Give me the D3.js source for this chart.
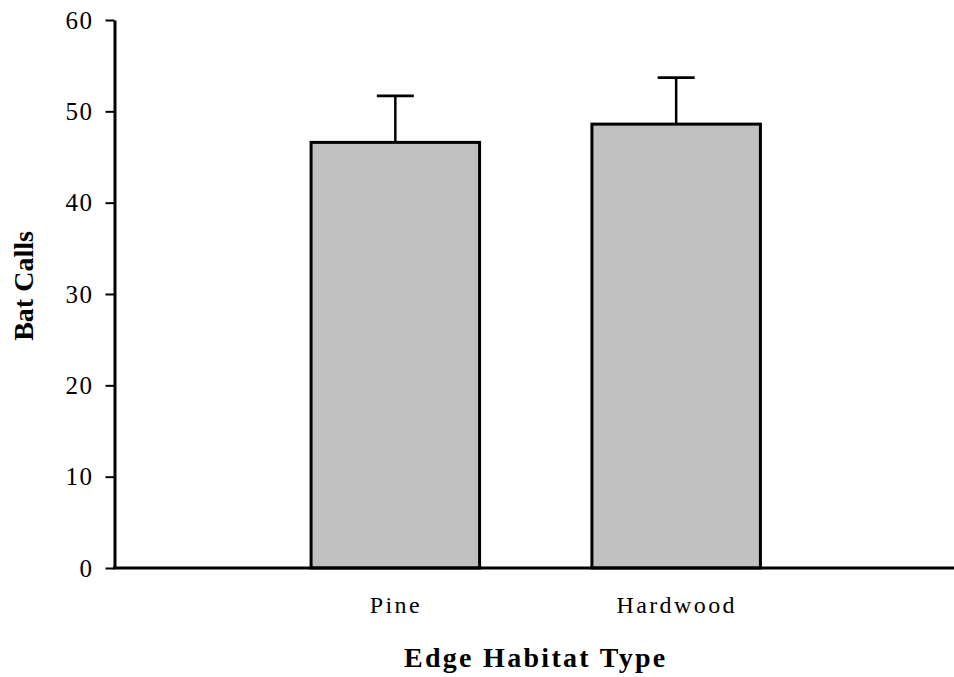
<!DOCTYPE html>
<html>
<head>
<meta charset="utf-8">
<script src="https://cdn.jsdelivr.net/npm/d3@7"></script>
<style>
  html, body { margin: 0; padding: 0; background: #fff; }
  svg { display: block; }
  text { font-family: "Liberation Serif", "Times New Roman", serif; fill: #000; }
</style>
</head>
<body>
<svg id="chart" width="954" height="677"></svg>
<script>
// Mean bat calls per edge habitat type, with standard error
const categories = ["Pine", "Hardwood"];
const means = [46.6, 48.6];
const errors = [5.1, 5.1];
const yTicks = [0, 10, 20, 30, 40, 50, 60];

const svg = d3.select("#chart");
const x0 = 114.5, x1 = 957, yTop = 20, yBottom = 568;

const x = d3.scalePoint().domain(categories).range([x0, x1]).padding(1);
const y = d3.scaleLinear().domain([0, 60]).range([yBottom, yTop]);
const barW = x.step() * 0.6;

// bars
svg.append("g").selectAll("rect")
  .data(categories)
  .join("rect")
  .attr("x", d => x(d) - barW / 2)
  .attr("y", (d, i) => y(means[i]))
  .attr("width", barW)
  .attr("height", (d, i) => y(0) - y(means[i]))
  .attr("fill", "#c0c0c0")
  .attr("stroke", "#000")
  .attr("stroke-width", 3);

// upper error bars
const eb = svg.append("g").attr("stroke", "#000");
categories.forEach((c, i) => {
  eb.append("line")
    .attr("x1", x(c)).attr("x2", x(c))
    .attr("y1", y(means[i])).attr("y2", y(means[i] + errors[i]))
    .attr("stroke-width", 2.5);
  eb.append("line")
    .attr("x1", x(c) - 18.5).attr("x2", x(c) + 18.5)
    .attr("y1", y(means[i] + errors[i])).attr("y2", y(means[i] + errors[i]))
    .attr("stroke-width", 2.8);
});

// y axis
const yAxis = svg.append("g")
  .attr("transform", `translate(${x0},0)`)
  .call(d3.axisLeft(y).tickValues(yTicks).tickSize(9).tickSizeOuter(0).tickPadding(12));
yAxis.select(".domain").attr("stroke", "#000").attr("stroke-width", 3);
yAxis.selectAll(".tick line").attr("stroke", "#000").attr("stroke-width", 2);
yAxis.selectAll(".tick text")
  .attr("font-family", "Liberation Serif")
  .attr("font-size", 25)
  .attr("letter-spacing", 1.5)
  .attr("fill", "#000");

// x axis
const xAxis = svg.append("g")
  .attr("transform", `translate(0,${yBottom})`)
  .call(d3.axisBottom(x).tickSize(0).tickSizeOuter(0).tickPadding(28));
xAxis.select(".domain").attr("stroke", "#000").attr("stroke-width", 3)
  .attr("d", `M${x0 - 1.5},0H${x1}`);
xAxis.selectAll(".tick text")
  .attr("font-family", "Liberation Serif")
  .attr("font-size", 24)
  .attr("letter-spacing", 2.4)
  .attr("fill", "#000");

// axis titles
svg.append("text")
  .attr("x", (x0 + x1) / 2)
  .attr("y", 667)
  .attr("text-anchor", "middle")
  .attr("font-size", 28)
  .attr("font-weight", "bold")
  .attr("letter-spacing", 2.3)
  .text("Edge Habitat Type");

svg.append("text")
  .attr("transform", "translate(33,286) rotate(-90)")
  .attr("text-anchor", "middle")
  .attr("font-size", 28)
  .attr("font-weight", "bold")
  .text("Bat Calls");
</script>
</body>
</html>
